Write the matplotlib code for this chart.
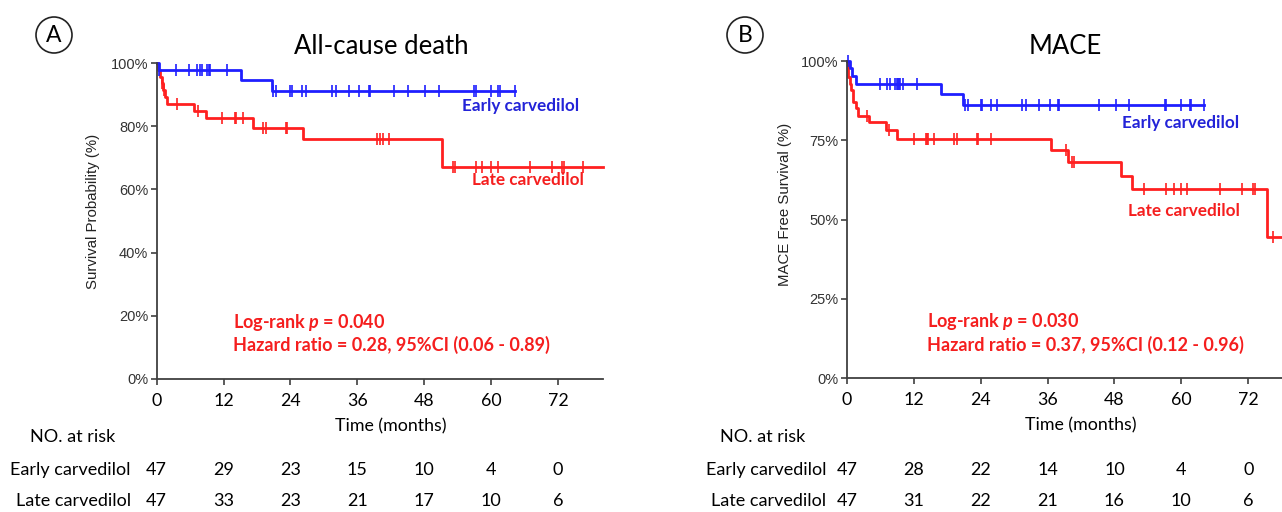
import matplotlib
matplotlib.use('Agg')
import matplotlib.pyplot as plt
import matplotlib.transforms as mtransforms
from matplotlib.patches import Ellipse
import numpy as np

plt.rcParams['font.family'] = ['Lato', 'DejaVu Sans']
plt.rcParams['mathtext.fontset'] = 'custom'
plt.rcParams['mathtext.it'] = 'Lato:italic:bold'
plt.rcParams['mathtext.rm'] = 'Lato:bold'

# --- Panel A: all-cause death ---
a_early_t = [0, 0.4, 15.2, 20.6]
a_early_s = [1.0, 0.979, 0.946, 0.911]
a_early_end = 64.3
a_early_cens = [0.4, 3.4, 5.8, 7.3, 7.7, 8.1, 9.0, 9.3, 9.6, 12.7,
                20.9, 21.4, 24.0, 24.2, 26.0, 26.8, 31.4, 32.1, 34.5, 36.3,
                38.0, 38.2, 42.6, 45.0, 48.1, 50.6, 57.0, 57.2, 59.9, 61.2,
                61.6, 64.3]

a_late_t = [0, 0.3, 0.6, 0.9, 1.2, 1.5, 1.9, 6.7, 8.8, 17.2, 26.2, 51.2]
a_late_s = [1.0, 0.979, 0.957, 0.936, 0.915, 0.894, 0.872, 0.848, 0.825,
            0.796, 0.759, 0.672]
a_late_end = 80
a_late_cens = [1.0, 1.3, 3.6, 7.5, 11.7, 14.0, 14.2, 15.5, 19.1, 19.6,
               23.2, 23.4, 39.5, 40.1, 40.6, 41.7, 53.2, 53.5, 57.2, 58.3,
               59.9, 61.2, 67.0, 71.0, 72.7, 73.1, 76.5]

a_risk_early = [47, 29, 23, 15, 10, 4, 0]
a_risk_late = [47, 33, 23, 21, 17, 10, 6]

# --- Panel B: MACE ---
b_early_t = [0, 0.6, 0.9, 1.6, 16.9, 20.8]
b_early_s = [1.0, 0.977, 0.952, 0.928, 0.896, 0.860]
b_early_end = 64.0
b_early_cens = [0.2, 6.0, 7.3, 7.8, 8.7, 9.0, 9.1, 9.4, 9.5, 10.1, 12.6,
                21.2, 21.8, 24.1, 24.3, 25.8, 27.0, 31.5, 32.2, 34.4, 36.4,
                37.9, 38.1, 45.2, 48.2, 50.7, 57.0, 57.3, 60.0, 61.5, 61.8,
                64.0]

b_late_t = [0, 0.3, 0.5, 0.8, 1.1, 1.6, 2.0, 3.9, 7.0, 9.0, 36.6, 39.7,
            49.1, 51.2, 75.3]
b_late_s = [1.0, 0.951, 0.928, 0.909, 0.872, 0.852, 0.828, 0.809, 0.782,
            0.755, 0.720, 0.681, 0.637, 0.596, 0.446]
b_late_end = 78
b_late_cens = [3.7, 7.6, 12.1, 14.2, 14.3, 14.5, 15.7, 19.3, 19.7, 23.3,
               23.5, 25.9, 39.3, 40.3, 40.7, 53.3, 57.3, 58.6, 59.9, 61.1,
               67.0, 70.9, 72.8, 73.2, 76.5]

b_risk_early = [47, 28, 22, 14, 10, 4, 0]
b_risk_late = [47, 31, 22, 21, 16, 10, 6]

risk_months = [0, 12, 24, 36, 48, 60, 72]

BLUE = '#1f1fff'
RED = '#ff2020'
BLUE_TXT = '#2323d8'
RED_TXT = '#f51e1e'
AXC = '#404040'


def surv_at(t, times, surv):
    idx = np.searchsorted(times, t, side='right') - 1
    return np.asarray(surv)[idx]


def draw_km(ax, times, surv, end, cens, color):
    x = list(times) + [end]
    y = list(surv) + [surv[-1]]
    ax.plot(x, y, drawstyle='steps-post', color=color, lw=2.0, clip_on=False)
    ax.plot(cens, surv_at(cens, times, surv), ls='none', marker='|',
            ms=9, mew=1.2, color=color, clip_on=False)


fig = plt.figure(figsize=(12.82, 5.12), dpi=100)

panels = [
    dict(rect=[0.1222, 0.2598, 0.3479, 0.617], xmax=80,
         yt=[0, 0.2, 0.4, 0.6, 0.8, 1.0], ylab='Survival Probability (%)',
         ylab_xy=(-0.127, 0.53),
         early=(a_early_t, a_early_s, a_early_end, a_early_cens),
         late=(a_late_t, a_late_s, a_late_end, a_late_cens),
         early_lbl=(54.8, 0.864), late_lbl=(56.5, 0.630),
         stat=(13.7, 0.180, 0.108), p='0.040',
         hr='Hazard ratio = 0.28, 95%CI (0.06 - 0.89)',
         risk=(a_risk_early, a_risk_late),
         title='All-cause death', title_x=381, letter='A', letter_x=54,
         tbl_x=30, row_right=131),
    dict(rect=[0.6605, 0.2617, 0.3393, 0.619], xmax=78,
         yt=[0, 0.25, 0.5, 0.75, 1.0], ylab='MACE Free Survival (%)',
         ylab_xy=(-0.126, 0.549),
         early=(b_early_t, b_early_s, b_early_end, b_early_cens),
         late=(b_late_t, b_late_s, b_late_end, b_late_cens),
         early_lbl=(49.3, 0.804), late_lbl=(50.5, 0.527),
         stat=(14.4, 0.177, 0.104), p='0.030',
         hr='Hazard ratio = 0.37, 95%CI (0.12 - 0.96)',
         risk=(b_risk_early, b_risk_late),
         title='MACE', title_x=1065, letter='B', letter_x=745,
         tbl_x=720, row_right=826),
]

W, H = 1282, 512

for p in panels:
    ax = fig.add_axes(p['rect'])
    ax.set_xlim(0, p['xmax'])
    ax.set_ylim(0, 1.0)
    for s in ['top', 'right']:
        ax.spines[s].set_visible(False)
    for s in ['left', 'bottom']:
        ax.spines[s].set_color(AXC)
        ax.spines[s].set_linewidth(1.3)
    ax.set_xticks(risk_months)
    ax.set_yticks(p['yt'])
    ax.set_yticklabels(['%d%%' % round(v * 100) for v in p['yt']],
                       family='Liberation Sans', fontsize=10.5, color='#333333')
    ax.tick_params(axis='both', color=AXC, length=4, width=1.2)
    ax.tick_params(axis='x', labelsize=12.8, pad=6)
    ax.tick_params(axis='y', pad=2)

    ax.set_xlabel('Time (months)', fontsize=12.8)
    ax.xaxis.set_label_coords(42 / p['xmax'], -0.125)
    ax.set_ylabel(p['ylab'], family='Liberation Sans', fontsize=10.8,
                  color='#222222')
    ax.yaxis.set_label_coords(*p['ylab_xy'])

    draw_km(ax, *p['late'], RED)
    draw_km(ax, *p['early'], BLUE)

    ax.text(p['early_lbl'][0], p['early_lbl'][1], 'Early carvedilol',
            color=BLUE_TXT, fontsize=12.3, weight='bold', va='center')
    ax.text(p['late_lbl'][0], p['late_lbl'][1], 'Late carvedilol',
            color=RED_TXT, fontsize=12.3, weight='bold', va='center')
    sx, sy1, sy2 = p['stat']
    ax.text(sx, sy1, 'Log-rank $p$ = ' + p['p'], color=RED_TXT,
            fontsize=13, weight='bold', va='center')
    ax.text(sx, sy2, p['hr'], color=RED_TXT, fontsize=13,
            weight='bold', va='center')

    # number at risk table
    tr = mtransforms.blended_transform_factory(ax.transData, fig.transFigure)
    for m, ne, nl in zip(risk_months, p['risk'][0], p['risk'][1]):
        ax.text(m, 1 - 470 / H, str(ne), transform=tr, ha='center',
                va='center', fontsize=13, clip_on=False)
        ax.text(m, 1 - 501 / H, str(nl), transform=tr, ha='center',
                va='center', fontsize=13, clip_on=False)
    fig.text(p['tbl_x'] / W, 1 - 437 / H, 'NO. at risk', fontsize=13,
             va='center')
    fig.text(p['row_right'] / W, 1 - 470 / H, 'Early carvedilol',
             fontsize=13, va='center', ha='right')
    fig.text(p['row_right'] / W, 1 - 501 / H, 'Late carvedilol',
             fontsize=13, va='center', ha='right')

    fig.text(p['title_x'] / W, 1 - 47 / H, p['title'], fontsize=18.5,
             ha='center', va='center')
    fig.text(p['letter_x'] / W, 1 - 35 / H, p['letter'], fontsize=16.5,
             ha='center', va='center')
    fig.add_artist(Ellipse((p['letter_x'] / W, 1 - 35 / H), 36 / W, 36 / H,
                           transform=fig.transFigure, fill=False,
                           edgecolor='#222222', lw=1.2))

plt.savefig('out.png', dpi=100)
